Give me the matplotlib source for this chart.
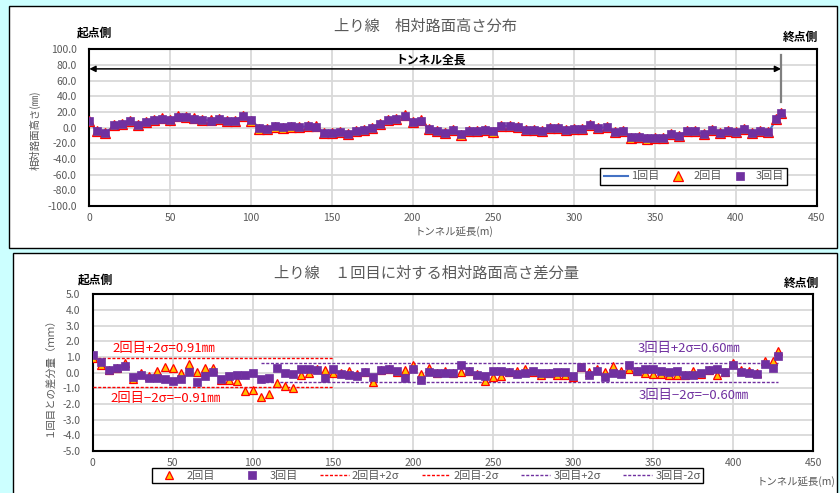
import numpy as np
import matplotlib
matplotlib.use('Agg')
import matplotlib.pyplot as plt
from matplotlib.patches import Rectangle
from matplotlib.lines import Line2D
from matplotlib.ticker import FuncFormatter, MultipleLocator

plt.rcParams['font.family'] = ['Noto Sans CJK JP', 'DejaVu Sans']

# ---------------- data ----------------
distance = list(range(0, 430, 5)) + [428]

run1 = [7, -4.5, -7.5, 2.5, 4.5, 8.5, 3.5, 7.5, 10, 12,
        10, 14.5, 13.5, 12, 10, 9, 12, 9, 8.5, 15.5,
        10, 0, -1, 1.3, 0.4, 1.7, 0.9, 1.7, 1.3, -6.5,
        -6.5, -5, -7.7, -4.7, -3.4, 0, 5, 9, 11, 15.5,
        7, 9.5, -1.7, -4.7, -6.8, -3.4, -9, -3.8, -4.3, -3,
        -5, 2.6, 1.7, 0.4, -3, -3, -4.7, 0, 0, -3.4,
        -1.3, -2.6, 3.4, -0.9, 0.9, -6, -4.3, -12.8, -11.9, -14,
        -12.8, -13.6, -8.1, -10.2, -4.3, -4.7, -8.5, -3.4, -6.8, -3.8,
        -6.4, -1.7, -7.2, -4.3, -6.4, 10.6, 17]

diff2 = [0.95, 0.5, 0.15, 0.3, 0.6, -0.38, -0.05, -0.2, 0.08, 0.33,
         0.32, 0.0, 0.53, 0.06, 0.28, 0.28, -0.45, -0.47, -0.53, -1.15,
         -1.1, -1.53, -1.36, -0.64, -0.83, -0.96, -0.15, 0.0, 0.22, 0.17,
         0.0, -0.05, 0.13, -0.1, 0.06, -0.62, 0.15, 0.26, 0.07, 0.19,
         0.47, -0.1, 0.3, 0.0, 0.13, -0.02, 0.02, 0.09, -0.1, -0.51,
         -0.3, -0.21, 0.04, 0.09, 0.26, 0.04, -0.17, -0.04, -0.15, -0.15,
         -0.28, 0.36, 0.04, 0.26, 0.04, 0.45, 0.09, 0.21, 0.13, -0.04,
         -0.11, -0.11, -0.17, -0.17, -0.17, 0.09, -0.08, 0.17, -0.17, 0.04,
         0.6, 0.17, 0.09, -0.04, 0.72, 0.77, 1.35]

diff3 = [1.1, 0.66, 0.17, 0.3, 0.42, -0.27, -0.17, -0.34, -0.35, -0.38,
         -0.55, -0.38, 0.04, -0.6, -0.19, 0.04, -0.43, -0.21, -0.13, -0.17,
         -0.02, -0.43, -0.32, 0.32, 0.0, -0.06, 0.26, 0.26, 0.15, -0.32,
         0.26, -0.09, -0.13, -0.19, 0.06, -0.26, 0.16, 0.21, 0.11, -0.37,
         0.21, -0.45, 0.02, 0.0, 0.0, -0.02, 0.47, 0.09, -0.13, -0.19,
         0.13, 0.13, 0.04, -0.09, 0.0, 0.09, -0.04, -0.04, 0.02, 0.06,
         -0.23, 0.36, -0.13, 0.11, -0.3, -0.04, -0.09, 0.51, 0.13, 0.23,
         0.21, 0.09, 0.04, 0.11, -0.17, -0.13, -0.04, 0.17, 0.21, 0.04,
         0.47, 0.04, -0.04, -0.09, 0.55, 0.3, 1.06]

# 2回目・3回目の相対路面高さ = 1回目 + 差分量
run2 = np.array(run1) + np.array(diff2)
run3 = np.array(run1) + np.array(diff3)

sigma2 = 0.91
sigma3 = 0.60
sigma2_range = [0, 150]
sigma3_range = [105, 428]
tunnel_length = 428

# ---------------- styles ----------------
BLUE = '#4472C4'
RED = '#FF0000'
ORANGE = '#FFC000'
PURPLE = '#7030A0'
GRAY = '#595959'
GRID = '#D9D9D9'

W, H = 840, 493
fig = plt.figure(figsize=(8.4, 4.93), dpi=100)
fig.patch.set_facecolor('#CCFFFF')


def fx(px):
    return px / W


def fy(py):
    return 1 - py / H


# panels
fig.add_artist(Rectangle((fx(9), fy(248)), fx(837) - fx(9), fy(6) - fy(248),
                         transform=fig.transFigure, facecolor='white',
                         edgecolor='black', lw=1.0, zorder=-10))
fig.add_artist(Rectangle((fx(13), fy(520)), fx(837) - fx(13), fy(253) - fy(520),
                         transform=fig.transFigure, facecolor='white',
                         edgecolor='black', lw=1.0, zorder=-10))

fmt1 = FuncFormatter(lambda v, p: '%.1f' % v)


def style_axes(ax, ylim, ystep):
    ax.set_xlim(0, 450)
    ax.set_ylim(*ylim)
    ax.xaxis.set_major_locator(MultipleLocator(50))
    ax.yaxis.set_major_locator(MultipleLocator(ystep))
    ax.yaxis.set_major_formatter(fmt1)
    ax.grid(True, color=GRID, lw=1.3)
    ax.set_axisbelow(True)
    for s in ax.spines.values():
        s.set_color('black')
        s.set_linewidth(1.5)
    ax.tick_params(axis='both', length=0, labelsize=7.5, labelcolor=GRAY)
    ax.tick_params(axis='y', pad=9)
    ax.tick_params(axis='x', pad=5)


# ---------------- top chart ----------------
ax1 = fig.add_axes([fx(89.3), fy(206), fx(816.7) - fx(89.3), fy(49.3) - fy(206)])
style_axes(ax1, (-100, 100), 20)

l1, = ax1.plot(distance, run1, color=BLUE, lw=1.5, zorder=3)
l2, = ax1.plot(distance, run2, ls='none', marker='^', ms=6.8, mfc=ORANGE,
               mec=RED, mew=0.9, zorder=4)
l3, = ax1.plot(distance, run3, ls='none', marker='s', ms=5.4, mfc=PURPLE,
               mec=PURPLE, mew=0.5, zorder=5)

ax1.annotate('', xy=(0, 75), xytext=(tunnel_length, 75),
             arrowprops=dict(arrowstyle='<|-|>', color='black', lw=1.1,
                             mutation_scale=9, shrinkA=0, shrinkB=0))
ax1.text(211, 86.5, 'トンネル全長', ha='center', va='center', fontsize=8.5,
         fontweight='bold', color='black')
ax1.plot([tunnel_length, tunnel_length], [33, 93], color='#7F7F7F', lw=1.6,
         zorder=6, clip_on=False)

leg1 = ax1.legend([l1, l2, l3], ['1回目', '2回目', '3回目'], ncol=3,
                  loc='lower left', bbox_to_anchor=(0.695, 0.10, 0.272, 0.118),
                  mode='expand', fontsize=8, frameon=True, fancybox=False,
                  edgecolor='black', framealpha=1, borderpad=0.3,
                  handlelength=2.2, handletextpad=0.3, columnspacing=1.0,
                  labelcolor=GRAY)
leg1.get_frame().set_linewidth(1.0)

fig.text(fx(426), fy(26), '上り線　相対路面高さ分布', ha='center', va='center',
         fontsize=11, color=GRAY)
fig.text(fx(94), fy(33), '起点側', ha='center', va='center', fontsize=8.5,
         fontweight='bold', color='black')
fig.text(fx(800), fy(37), '終点側', ha='center', va='center', fontsize=8.5,
         fontweight='bold', color='black')
fig.text(fx(35), fy(130), '相対路面高さ(㎜)', ha='center', va='center',
         rotation=90, fontsize=7.5, color=GRAY)
fig.text(fx(454), fy(232), 'トンネル延長(m)', ha='center', va='center',
         fontsize=7.5, color=GRAY)

# ---------------- bottom chart ----------------
ax2 = fig.add_axes([fx(92.7), fy(451), fx(813.3) - fx(92.7), fy(294.3) - fy(451)])
style_axes(ax2, (-5, 5), 1.0)

m2, = ax2.plot(distance, diff2, ls='none', marker='^', ms=6, mfc=ORANGE,
               mec=RED, mew=0.9, zorder=4)
m3, = ax2.plot(distance, diff3, ls='none', marker='s', ms=5.3, mfc=PURPLE,
               mec=PURPLE, mew=0.5, zorder=5)
dash = (0, (2.2, 1.2))
p2, = ax2.plot(sigma2_range, [sigma2, sigma2], color=RED, lw=1.0, ls=dash, zorder=3)
n2, = ax2.plot(sigma2_range, [-sigma2, -sigma2], color=RED, lw=1.0, ls=dash, zorder=3)
p3, = ax2.plot(sigma3_range, [sigma3, sigma3], color=PURPLE, lw=1.0, ls=dash, zorder=3)
n3, = ax2.plot(sigma3_range, [-sigma3, -sigma3], color=PURPLE, lw=1.0, ls=dash, zorder=3)

ax2.text(12.5, 1.53, '2回目+2σ=0.%02d㎜' % round(sigma2 * 100), ha='left',
         va='center', fontsize=9.5, color=RED)
ax2.text(10.8, -1.68, '2回目−2σ=−0.%02d㎜' % round(sigma2 * 100), ha='left',
         va='center', fontsize=9.5, color=RED)
ax2.text(340, 1.51, '3回目+2σ=0.%02d㎜' % round(sigma3 * 100), ha='left',
         va='center', fontsize=9.5, color=PURPLE)
ax2.text(341, -1.47, '3回目−2σ=−0.%02d㎜' % round(sigma3 * 100), ha='left',
         va='center', fontsize=9.5, color=PURPLE)

leg2 = ax2.legend([m2, m3, p2, n2, p3, n3],
                  ['2回目', '3回目', '2回目+2σ', '2回目-2σ', '3回目+2σ', '3回目-2σ'],
                  ncol=6, loc='lower left',
                  bbox_to_anchor=(fx(146), fy(489), fx(709) - fx(146), fy(470) - fy(489)),
                  bbox_transform=fig.transFigure, mode='expand', fontsize=8,
                  frameon=True, fancybox=False, edgecolor='black', framealpha=1,
                  borderpad=0.25, handlelength=2.6, handletextpad=0.3,
                  columnspacing=0.8, labelcolor=GRAY)
leg2.get_frame().set_linewidth(1.0)

fig.text(fx(427), fy(273), '上り線　１回目に対する相対路面高さ差分量', ha='center',
         va='center', fontsize=11, color=GRAY)
fig.text(fx(95), fy(280), '起点側', ha='center', va='center', fontsize=8.5,
         fontweight='bold', color='black')
fig.text(fx(801), fy(283), '終点側', ha='center', va='center', fontsize=8.5,
         fontweight='bold', color='black')
fig.text(fx(50), fy(375), '１回目との差分量（ｍｍ）', ha='center', va='center',
         rotation=90, fontsize=7.5, color=GRAY)
fig.text(fx(796), fy(482), 'トンネル延長(m)', ha='center', va='center',
         fontsize=7.5, color=GRAY)

fig.savefig('out.png', dpi=100, facecolor=fig.get_facecolor())
